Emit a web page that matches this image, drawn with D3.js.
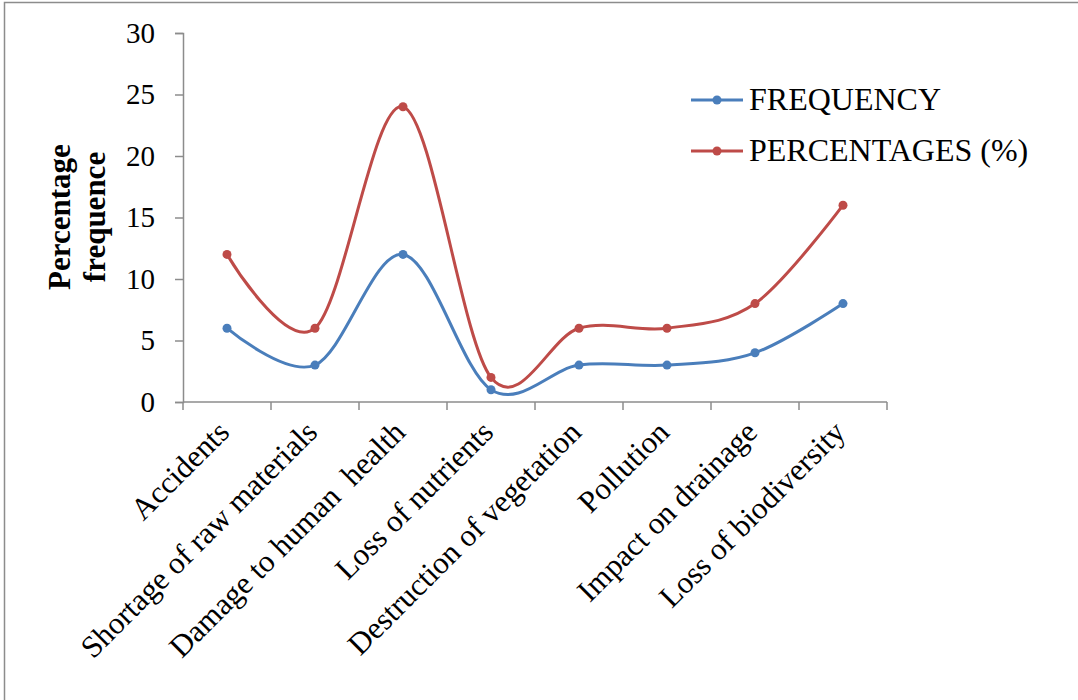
<!DOCTYPE html>
<html>
<head>
<meta charset="utf-8">
<script src="https://cdn.jsdelivr.net/npm/d3@7"></script>
<style>
  html, body { margin: 0; padding: 0; background: #fff; }
  svg { display: block; }
</style>
</head>
<body>
<svg id="chart" width="1078" height="700"></svg>
<script>
// Problem categories and the two series plotted against them
const categories = [
  "Accidents",
  "Shortage of raw materials",
  "Damage to human  health",
  "Loss of nutrients",
  "Destruction of vegetation",
  "Pollution",
  "Impact on drainage",
  "Loss of biodiversity"
];
const frequency = [6, 3, 12, 1, 3, 3, 4, 8];
const percentages = [12, 6, 24, 2, 6, 6, 8, 16];
const yTicks = [0, 5, 10, 15, 20, 25, 30];
const seriesNames = ["FREQUENCY", "PERCENTAGES (%)"];

const svg = d3.select("#chart");
const serif = "'Liberation Serif', 'Times New Roman', serif";

// outer frame of the chart area
svg.append("rect")
  .attr("x", 4.5).attr("y", 2.5)
  .attr("width", 1200).attr("height", 800)
  .attr("fill", "none").attr("stroke", "#8c8c8c").attr("stroke-width", 1.5);

const plotLeft = 183, plotRight = 887, plotTop = 33, plotBottom = 402;

const x = d3.scaleBand().domain(categories).range([plotLeft, plotRight]).padding(0);
const y = d3.scaleLinear().domain([0, 30]).range([plotBottom, plotTop]);

// y axis
const yAxis = svg.append("g")
  .attr("transform", `translate(${plotLeft},0)`)
  .call(d3.axisLeft(y).tickValues(yTicks).tickSize(8).tickPadding(20));
yAxis.select(".domain").attr("stroke", "#8c8c8c").attr("stroke-width", 1.5);
yAxis.selectAll(".tick line").attr("stroke", "#8c8c8c").attr("stroke-width", 1.5);
yAxis.selectAll(".tick text")
  .attr("font-family", serif).attr("font-size", 29).attr("fill", "#000");

// x axis: ticks at category boundaries
const xAxisG = svg.append("g").attr("transform", `translate(0,${plotBottom})`);
xAxisG.append("line")
  .attr("x1", plotLeft).attr("x2", plotRight).attr("y1", 0).attr("y2", 0)
  .attr("stroke", "#8c8c8c").attr("stroke-width", 1.5);
const boundaries = categories.map(c => x(c)).concat([x(categories[categories.length - 1]) + x.bandwidth()]);
xAxisG.selectAll("line.tk").data(boundaries).enter().append("line")
  .attr("class", "tk")
  .attr("x1", d => d).attr("x2", d => d).attr("y1", 0).attr("y2", 8)
  .attr("stroke", "#8c8c8c").attr("stroke-width", 1.5);

// rotated category labels
svg.append("g").selectAll("text").data(categories).enter().append("text")
  .attr("transform", d => `translate(${x(d) + x.bandwidth() / 2 + 4},${plotBottom + 32}) rotate(-45)`)
  .attr("text-anchor", "end")
  .attr("font-family", serif).attr("font-size", 31).attr("fill", "#000")
  .style("white-space", "pre")
  .text(d => d);

// y axis title (two lines)
const yTitle = svg.append("text")
  .attr("transform", `translate(70,217) rotate(-90)`)
  .attr("text-anchor", "middle")
  .attr("font-family", serif).attr("font-size", 31).attr("font-weight", "bold").attr("fill", "#000");
yTitle.append("tspan").attr("x", 0).attr("dy", 0).text("Percentage");
yTitle.append("tspan").attr("x", 0).attr("dy", 35).text("frequence");

const colors = ["#4a7ebb", "#be4b48"];
const seriesData = [frequency, percentages];

const line = d3.line()
  .x((d, i) => x(categories[i]) + x.bandwidth() / 2)
  .y(d => y(d))
  .curve(d3.curveCardinal.tension(0));

// draw percentages first so frequency sits on top where they meet
[1, 0].forEach(s => {
  const g = svg.append("g");
  g.append("path")
    .datum(seriesData[s])
    .attr("d", line)
    .attr("fill", "none")
    .attr("stroke", colors[s])
    .attr("stroke-width", 3);
  g.selectAll("circle").data(seriesData[s]).enter().append("circle")
    .attr("cx", (d, i) => x(categories[i]) + x.bandwidth() / 2)
    .attr("cy", d => y(d))
    .attr("r", 4.5)
    .attr("fill", colors[s]);
});

// legend
const legend = svg.append("g");
seriesNames.forEach((name, i) => {
  const ly = 100 + i * 51;
  legend.append("line")
    .attr("x1", 691).attr("x2", 743).attr("y1", ly).attr("y2", ly)
    .attr("stroke", colors[i]).attr("stroke-width", 3);
  legend.append("circle")
    .attr("cx", 717).attr("cy", ly).attr("r", 4.5).attr("fill", colors[i]);
  legend.append("text")
    .attr("x", 749).attr("y", ly + 10)
    .attr("font-family", serif).attr("font-size", 32).attr("fill", "#000")
    .text(name);
});
</script>
</body>
</html>
